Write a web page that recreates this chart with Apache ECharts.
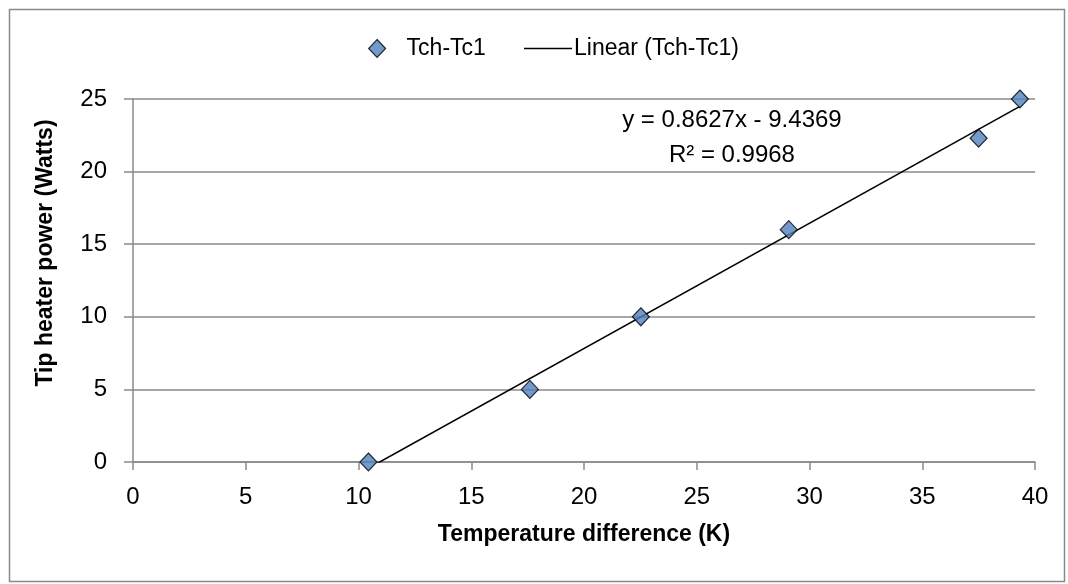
<!DOCTYPE html>
<html><head><meta charset="utf-8">
<script src="https://cdn.jsdelivr.net/npm/echarts@6/dist/echarts.min.js"></script>
<style>html,body{margin:0;padding:0;background:#fff}#c{width:1068px;height:584px}</style>
</head><body><div id="c"></div>
<script>
const tempDiff = [10.44, 17.6, 22.52, 29.08, 37.5, 39.33];
const power = [0, 5, 10, 16, 22.3, 25];
const seriesName = 'Tch-Tc1';
const trendName = 'Linear (Tch-Tc1)';
const slope = 0.8627;
const intercept = -9.4369;
const eqText = 'y = 0.8627x - 9.4369';
const r2Text = 'R² = 0.9968';
const xTitle = 'Temperature difference (K)';
const yTitle = 'Tip heater power (Watts)';

const pts = tempDiff.map((x, i) => [x, power[i]]);
const xMin = Math.min(...tempDiff), xMax = Math.max(...tempDiff);
const trend = [[xMin, slope * xMin + intercept], [xMax, slope * xMax + intercept]];
const FONT = 'Liberation Sans';
const GRAY = '#8a8a8a';

const chart = echarts.init(document.getElementById('c'), null, {renderer: 'canvas'});
chart.setOption({
  animation: false,
  backgroundColor: '#fff',
  textStyle: {fontFamily: FONT},
  graphic: [
    {
      type: 'rect', left: 7, top: 7,
      shape: {width: 1055, height: 572},
      style: {fill: 'none', stroke: GRAY, lineWidth: 1.5}, silent: true
    },
    {
      type: 'text', x: 46, y: 253, rotation: Math.PI / 2,
      style: {text: yTitle, font: 'bold 23px "Liberation Sans"', fill: '#000', align: 'center', verticalAlign: 'middle'},
      silent: true
    }
  ],
  legend: [
    {
      left: 363, top: 32, itemWidth: 17, itemHeight: 18,
      textStyle: {fontSize: 23, color: '#000', fontFamily: FONT, padding: [0, 0, 0, 16]},
      data: [{name: seriesName, icon: 'diamond', itemStyle: {color: '#4F81BD', borderColor: '#000', borderWidth: 1.2}}]
    },
    {
      left: 519, top: 32, itemWidth: 48, itemHeight: 1.6,
      textStyle: {fontSize: 23, color: '#000', fontFamily: FONT, padding: [0, 0, 0, -3]},
      data: [{name: trendName, icon: 'rect', itemStyle: {color: '#000'}}]
    }
  ],
  grid: {left: 133, right: 33, top: 99, bottom: 122, containLabel: false},
  xAxis: {
    type: 'value', min: 0, max: 40, interval: 5,
    name: xTitle, nameLocation: 'middle', nameGap: 61,
    nameTextStyle: {fontSize: 23, fontWeight: 'bold', color: '#000', fontFamily: FONT},
    axisLine: {show: true, onZero: false, lineStyle: {color: GRAY, width: 1.5}},
    axisTick: {show: true, length: 8, lineStyle: {color: GRAY, width: 1.5}},
    axisLabel: {fontSize: 24, color: '#000', margin: 23, fontFamily: FONT},
    splitLine: {show: false}
  },
  yAxis: {
    type: 'value', min: 0, max: 25, interval: 5,
    axisLine: {show: true, lineStyle: {color: GRAY, width: 1.5}},
    axisTick: {show: true, length: 9, lineStyle: {color: GRAY, width: 1.5}},
    axisLabel: {fontSize: 24, color: '#000', margin: 26, fontFamily: FONT},
    splitLine: {show: true, lineStyle: {color: GRAY, width: 1.5}}
  },
  series: [
    {
      name: trendName, type: 'line', data: trend, symbol: 'none',
      lineStyle: {color: '#000', width: 1.6}, z: 3,
      markPoint: {
        symbol: 'rect', symbolSize: 0,
        label: {show: true, position: 'inside', formatter: eqText + '\n' + r2Text, fontSize: 24, lineHeight: 35, color: '#000', fontFamily: FONT, align: 'center'},
        data: [{coord: [26.56, 22.35]}]
      }
    },
    {
      name: seriesName, type: 'scatter', data: pts, symbol: 'diamond', symbolSize: [17, 18],
      itemStyle: {color: '#4F81BD', borderColor: '#000', borderWidth: 1.2}, z: 4
    }
  ]
});
</script></body></html>
